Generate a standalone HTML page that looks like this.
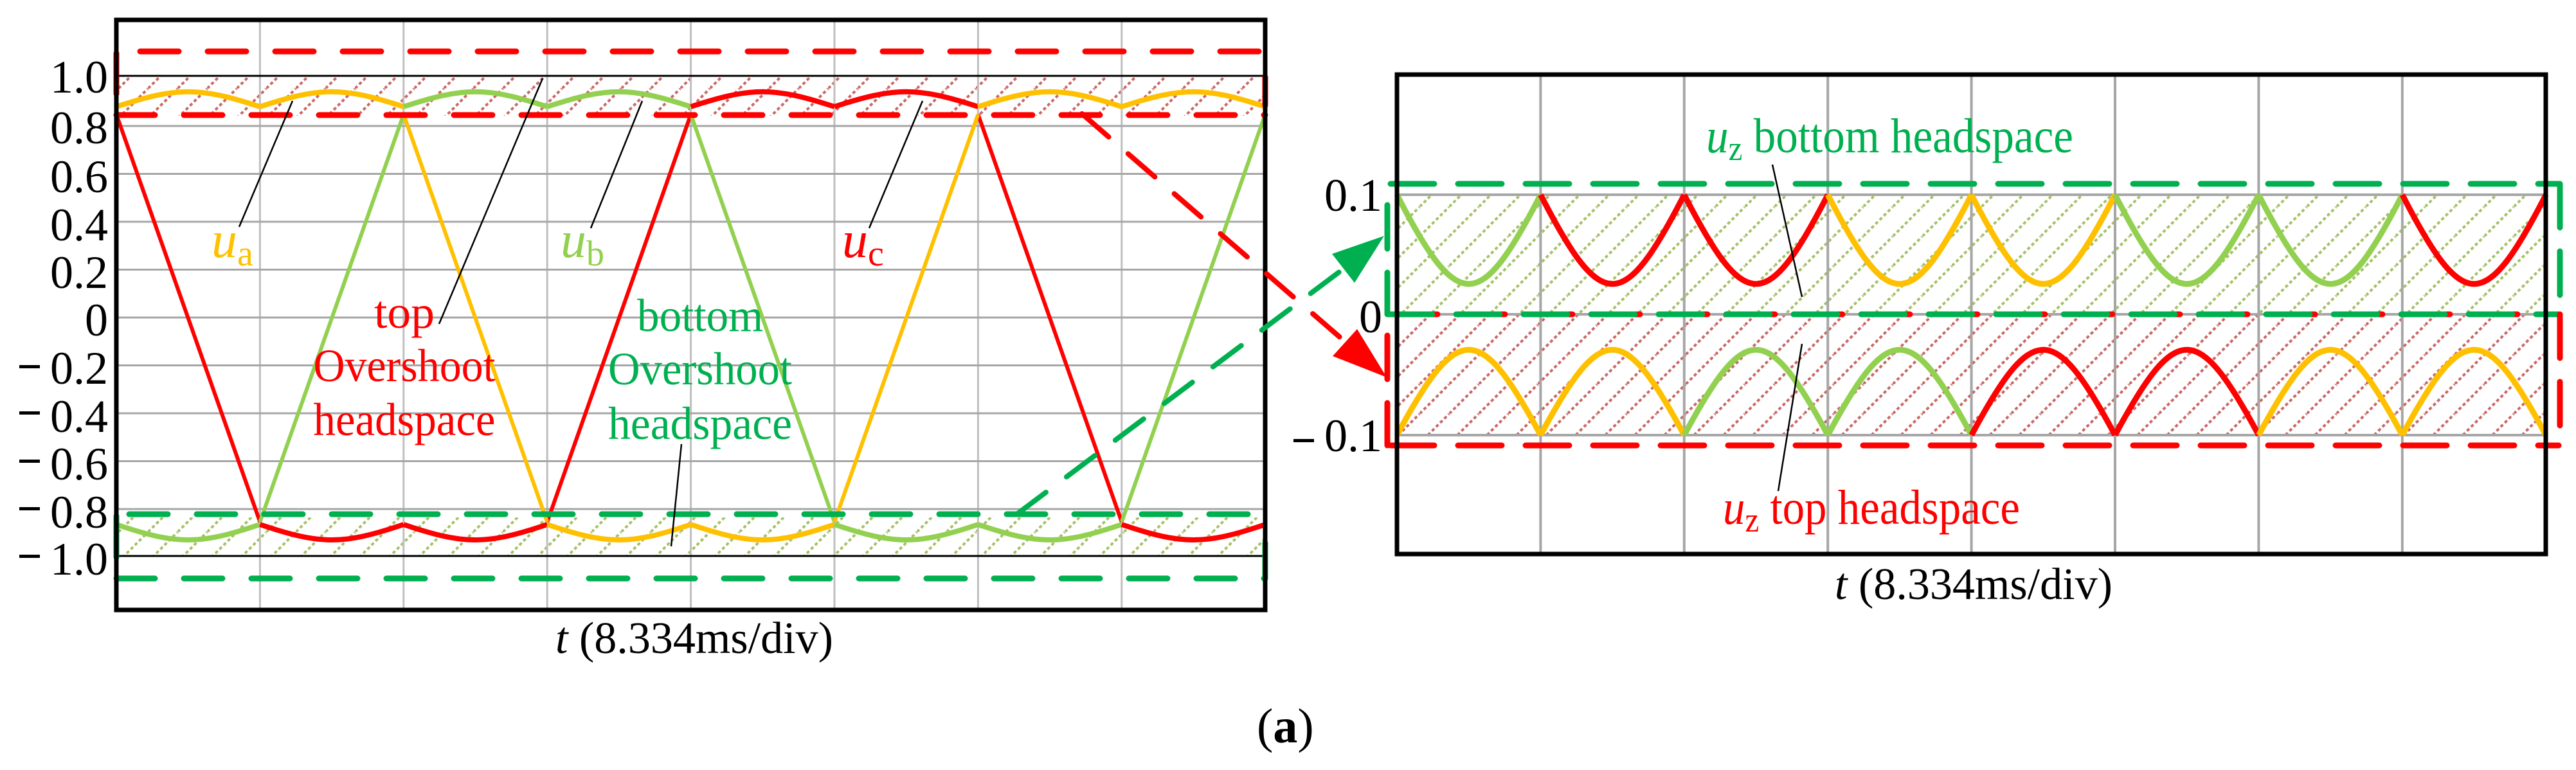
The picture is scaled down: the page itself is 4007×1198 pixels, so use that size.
<!DOCTYPE html>
<html><head><meta charset="utf-8"><style>
html,body{margin:0;padding:0;background:#fff}
svg{display:block}
.s{font-family:"Liberation Serif","Times New Roman","DejaVu Serif","Noto Serif CJK SC",serif}
</style></head><body>
<svg class="s" width="4007" height="1198" viewBox="0 0 4007 1198" xmlns="http://www.w3.org/2000/svg">
<defs>
<pattern id="hr" patternUnits="userSpaceOnUse" width="46" height="46">
<path d="M-6 52 L52 -6" stroke="#c0504d" stroke-width="4" stroke-dasharray="5 4" opacity="0.85"/>
<path d="M-29 29 L29 -29 M17 75 L75 17" stroke="#c0504d" stroke-width="4" stroke-dasharray="5 4" opacity="0.85"/>
</pattern>
<pattern id="hg" patternUnits="userSpaceOnUse" width="46" height="46">
<path d="M-6 52 L52 -6" stroke="#9bbb59" stroke-width="4" stroke-dasharray="5 4" opacity="0.9"/>
<path d="M-29 29 L29 -29 M17 75 L75 17" stroke="#9bbb59" stroke-width="4" stroke-dasharray="5 4" opacity="0.9"/>
</pattern>
<path id="at" d="M0 0 C94.8 -31 128.6 -31 223.4 0" fill="none" stroke-width="8"/>
<path id="ab" d="M0 0 C94.8 32 128.6 32 223.4 0" fill="none" stroke-width="8"/>
<path id="rv" d="M0 0 C94.8 185 128.6 185 223.4 0" fill="none" stroke-width="9"/>
<path id="ra" d="M0 0 C94.8 -177 128.6 -177 223.4 0" fill="none" stroke-width="9"/>
</defs>

<rect x="181" y="118" width="1787" height="62" fill="url(#hr)"/>
<rect x="181" y="805" width="1787" height="60" fill="url(#hg)"/>
<g stroke="#bfbfbf" stroke-width="3">
<line x1="404.4" y1="31" x2="404.4" y2="949"/><line x1="627.8" y1="31" x2="627.8" y2="949"/>
<line x1="851.2" y1="31" x2="851.2" y2="949"/><line x1="1074.6" y1="31" x2="1074.6" y2="949"/>
<line x1="1298" y1="31" x2="1298" y2="949"/><line x1="1521.4" y1="31" x2="1521.4" y2="949"/>
<line x1="1744.8" y1="31" x2="1744.8" y2="949"/>
</g>
<g stroke="#a6a6a6" stroke-width="3">
<line x1="181" y1="196" x2="1968" y2="196"/><line x1="181" y1="270.5" x2="1968" y2="270.5"/>
<line x1="181" y1="345" x2="1968" y2="345"/><line x1="181" y1="419.5" x2="1968" y2="419.5"/>
<line x1="181" y1="494" x2="1968" y2="494"/><line x1="181" y1="568.5" x2="1968" y2="568.5"/>
<line x1="181" y1="643" x2="1968" y2="643"/><line x1="181" y1="717.5" x2="1968" y2="717.5"/>
<line x1="181" y1="792" x2="1968" y2="792"/>
</g>
<line x1="181" y1="118" x2="1968" y2="118" stroke="#000" stroke-width="3"/>
<line x1="181" y1="865" x2="1968" y2="865" stroke="#000" stroke-width="3"/>

<g fill="none" stroke-width="6">
<path d="M181 178 L404.4 812" stroke="#ff0000"/>
<path d="M851.2 812 L1074.6 178" stroke="#ff0000"/>
<path d="M1521.4 178 L1744.8 812" stroke="#ff0000"/>
<path d="M404.4 812 L627.8 178" stroke="#92d050"/>
<path d="M1074.6 178 L1298 812" stroke="#92d050"/>
<path d="M1744.8 812 L1968 178" stroke="#92d050"/>
<path d="M627.8 178 L851.2 812" stroke="#ffc000"/>
<path d="M1298 812 L1521.4 178" stroke="#ffc000"/>
</g>
<use href="#at" x="181" y="166" stroke="#ffc000"/>
<use href="#at" x="404.4" y="166" stroke="#ffc000"/>
<use href="#at" x="627.8" y="166" stroke="#92d050"/>
<use href="#at" x="851.2" y="166" stroke="#92d050"/>
<use href="#at" x="1074.6" y="166" stroke="#ff0000"/>
<use href="#at" x="1298" y="166" stroke="#ff0000"/>
<use href="#at" x="1521.4" y="166" stroke="#ffc000"/>
<use href="#at" x="1744.8" y="166" stroke="#ffc000"/>
<use href="#ab" x="181" y="816" stroke="#92d050"/>
<use href="#ab" x="404.4" y="816" stroke="#ff0000"/>
<use href="#ab" x="627.8" y="816" stroke="#ff0000"/>
<use href="#ab" x="851.2" y="816" stroke="#ffc000"/>
<use href="#ab" x="1074.6" y="816" stroke="#ffc000"/>
<use href="#ab" x="1298" y="816" stroke="#92d050"/>
<use href="#ab" x="1521.4" y="816" stroke="#92d050"/>
<use href="#ab" x="1744.8" y="816" stroke="#ff0000"/>

<g fill="none" stroke-width="9" stroke-linecap="round" stroke-dasharray="60 45">
<line x1="218" y1="80" x2="1968" y2="80" stroke="#ff0000"/>
<line x1="181" y1="179" x2="1968" y2="179" stroke="#ff0000"/>
<line x1="201" y1="800" x2="1968" y2="800" stroke="#00b050"/>
<line x1="181" y1="900" x2="1968" y2="900" stroke="#00b050"/>
</g>
<g stroke-width="9" stroke-linecap="round">
<line x1="181" y1="83" x2="181" y2="146" stroke="#ff0000"/>
<line x1="1968" y1="120" x2="1968" y2="164" stroke="#ff0000"/>
<line x1="181" y1="803" x2="181" y2="867" stroke="#00b050"/>
<line x1="1968" y1="845" x2="1968" y2="900" stroke="#00b050"/>
</g>
<rect x="181" y="31" width="1787" height="918" fill="none" stroke="#000" stroke-width="7"/>

<g stroke="#000" stroke-width="2.5">
<line x1="372" y1="353" x2="455" y2="157"/>
<line x1="683" y1="504" x2="844" y2="122"/>
<line x1="919" y1="355" x2="999" y2="157"/>
<line x1="1352" y1="355" x2="1435" y2="157"/>
<line x1="1044" y1="850" x2="1060" y2="691"/>
</g>

<g class="s" font-size="72" fill="#000" text-anchor="end">
<text x="168" y="144">1.0</text><text x="168" y="223">0.8</text>
<text x="168" y="299">0.6</text><text x="168" y="374">0.4</text>
<text x="168" y="448">0.2</text><text x="168" y="522">0</text>
<text x="168" y="597">0.2</text><text x="168" y="672">0.4</text>
<text x="168" y="746">0.6</text><text x="168" y="821">0.8</text>
<text x="168" y="894">1.0</text>
</g>
<g fill="#000">
<rect x="30" y="568" width="32" height="5"/><rect x="30" y="640" width="32" height="5"/>
<rect x="30" y="715" width="32" height="5"/><rect x="30" y="789" width="32" height="5"/>
<rect x="30" y="863" width="32" height="5"/>
</g>
<g class="s">
<text x="329" y="400" font-size="80" fill="#ffc000"><tspan font-style="italic">u</tspan><tspan font-size="56" dy="13">a</tspan></text>
<text x="872" y="400" font-size="80" fill="#92d050"><tspan font-style="italic">u</tspan><tspan font-size="56" dy="13">b</tspan></text>
<text x="1310" y="400" font-size="80" fill="#ff0000"><tspan font-style="italic">u</tspan><tspan font-size="56" dy="13">c</tspan></text>
<g font-size="72" fill="#ff0000" text-anchor="middle">
<text x="629" y="510" textLength="94" lengthAdjust="spacingAndGlyphs">top</text>
<text x="629" y="593" textLength="283" lengthAdjust="spacingAndGlyphs">Overshoot</text>
<text x="629" y="677" textLength="283" lengthAdjust="spacingAndGlyphs">headspace</text>
</g>
<g font-size="72" fill="#00b050" text-anchor="middle">
<text x="1089" y="515" textLength="196" lengthAdjust="spacingAndGlyphs">bottom</text>
<text x="1089" y="598" textLength="286" lengthAdjust="spacingAndGlyphs">Overshoot</text>
<text x="1089" y="683" textLength="286" lengthAdjust="spacingAndGlyphs">headspace</text>
</g>
<text x="864" y="1016" font-size="70" textLength="432" lengthAdjust="spacingAndGlyphs"><tspan font-style="italic">t</tspan> (8.334ms/div)</text>
<text x="1955" y="1155" font-size="76">(<tspan font-weight="bold">a</tspan>)</text>
</g>

<g fill="none" stroke-width="8" stroke-linecap="round" stroke-dasharray="55 40">
<line x1="1683" y1="177" x2="2095" y2="534" stroke="#ff0000"/>
<line x1="1583" y1="799" x2="2090" y2="418" stroke="#00b050"/>
</g>
<polygon points="2153,367 2072,395 2107,440" fill="#00b050"/>
<polygon points="2157,587 2073,554 2111,512" fill="#ff0000"/>

<rect x="2173" y="303" width="1787" height="186" fill="url(#hg)"/>
<rect x="2173" y="489" width="1787" height="187" fill="url(#hr)"/>
<g stroke="#a6a6a6" stroke-width="4">
<line x1="2396.4" y1="116" x2="2396.4" y2="862"/><line x1="2619.8" y1="116" x2="2619.8" y2="862"/>
<line x1="2843.2" y1="116" x2="2843.2" y2="862"/><line x1="3066.6" y1="116" x2="3066.6" y2="862"/>
<line x1="3290" y1="116" x2="3290" y2="862"/><line x1="3513.4" y1="116" x2="3513.4" y2="862"/>
<line x1="3736.8" y1="116" x2="3736.8" y2="862"/>
<line x1="2173" y1="303" x2="3960" y2="303"/>
<line x1="2173" y1="489" x2="3960" y2="489"/>
<line x1="2173" y1="677" x2="3960" y2="677"/>
</g>
<use href="#rv" x="2173" y="303" stroke="#92d050"/>
<use href="#rv" x="2396.4" y="303" stroke="#ff0000"/>
<use href="#rv" x="2619.8" y="303" stroke="#ff0000"/>
<use href="#rv" x="2843.2" y="303" stroke="#ffc000"/>
<use href="#rv" x="3066.6" y="303" stroke="#ffc000"/>
<use href="#rv" x="3290" y="303" stroke="#92d050"/>
<use href="#rv" x="3513.4" y="303" stroke="#92d050"/>
<use href="#rv" x="3736.8" y="303" stroke="#ff0000"/>
<use href="#ra" x="2173" y="677" stroke="#ffc000"/>
<use href="#ra" x="2396.4" y="677" stroke="#ffc000"/>
<use href="#ra" x="2619.8" y="677" stroke="#92d050"/>
<use href="#ra" x="2843.2" y="677" stroke="#92d050"/>
<use href="#ra" x="3066.6" y="677" stroke="#ff0000"/>
<use href="#ra" x="3290" y="677" stroke="#ff0000"/>
<use href="#ra" x="3513.4" y="677" stroke="#ffc000"/>
<use href="#ra" x="3736.8" y="677" stroke="#ffc000"/>

<g fill="none" stroke-width="9" stroke-linecap="round" stroke-dasharray="68 37">
<line x1="2163" y1="286" x2="3980" y2="286" stroke="#00b050"/>
<line x1="2163" y1="693" x2="3980" y2="693" stroke="#ff0000"/>
<line x1="2168" y1="489" x2="3980" y2="489" stroke="#ff0000"/>
<line x1="2160" y1="489" x2="3980" y2="489" stroke="#00b050"/>
<line x1="2158" y1="319" x2="2158" y2="489" stroke="#00b050"/>
<line x1="2158" y1="522" x2="2158" y2="693" stroke="#ff0000"/>
<line x1="3982" y1="286" x2="3982" y2="489" stroke="#00b050"/>
<line x1="3982" y1="489" x2="3982" y2="693" stroke="#ff0000"/>
</g>
<rect x="2173" y="116" width="1787" height="746" fill="none" stroke="#000" stroke-width="7"/>

<g stroke="#000" stroke-width="2.5">
<line x1="2757" y1="256" x2="2803" y2="462"/>
<line x1="2803" y1="535" x2="2766" y2="764"/>
</g>
<g class="s">
<g font-size="72" fill="#000" text-anchor="end">
<text x="2150" y="328">0.1</text>
<text x="2150" y="517">0</text>
<text x="2150" y="702">0.1</text>
</g>
<rect x="2012" y="683" width="32" height="5" fill="#000"/>
<text x="2654" y="237" font-size="76" fill="#00b050" textLength="571" lengthAdjust="spacingAndGlyphs"><tspan font-style="italic">u</tspan><tspan font-size="54" dy="12">z</tspan><tspan dy="-12"> bottom headspace</tspan></text>
<text x="2680" y="815" font-size="76" fill="#ff0000" textLength="462" lengthAdjust="spacingAndGlyphs"><tspan font-style="italic">u</tspan><tspan font-size="54" dy="12">z</tspan><tspan dy="-12"> top headspace</tspan></text>
<text x="2854" y="932" font-size="70" textLength="432" lengthAdjust="spacingAndGlyphs"><tspan font-style="italic">t</tspan> (8.334ms/div)</text>
</g>
</svg>
</body></html>
